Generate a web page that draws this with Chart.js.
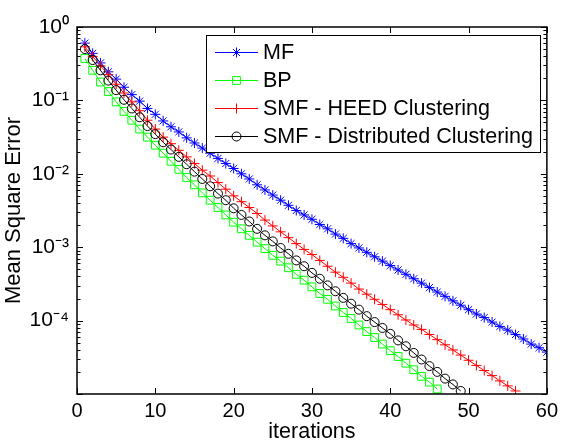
<!DOCTYPE html>
<html><head><meta charset="utf-8">
<script src="https://cdn.jsdelivr.net/npm/chart.js@4.4.1/dist/chart.umd.min.js"></script>
<style>html,body{margin:0;padding:0;background:#fff;}canvas{display:block;}</style>
</head><body>
<canvas id="c" width="563" height="443"></canvas>
<script>
const iterations = [1,2,3,4,5,6,7,8,9,10,11,12,13,14,15,16,17,18,19,20,21,22,23,24,25,26,27,28,29,30,31,32,33,34,35,36,37,38,39,40,41,42,43,44,45,46,47,48,49,50,51,52,53,54,55,56,57,58,59,60];
const mf = [0.603,0.437,0.324,0.245,0.195,0.151,0.120,0.0977,0.0776,0.0646,
  0.0525,0.0437,0.0372,0.0309,0.0263,0.0224,0.0191,0.0162,0.0138,0.0118,
  0.0100,0.00851,0.00708,0.00603,0.00513,0.00437,0.00372,0.00316,0.00275,0.00240,
  0.00204,0.00178,0.00151,0.00132,0.00112,9.77e-4,8.51e-4,7.41e-4,6.46e-4,5.62e-4,
  4.90e-4,4.27e-4,3.72e-4,3.24e-4,2.82e-4,2.45e-4,2.14e-4,1.86e-4,1.62e-4,1.41e-4,
  1.23e-4,1.10e-4,9.55e-5,8.32e-5,7.41e-5,6.46e-5,5.62e-5,4.79e-5,4.27e-5,3.72e-5];
const bp = [0.372,0.257,0.178,0.132,0.0955,0.0708,0.0537,0.0407,0.0316,0.0245,
  0.0191,0.0148,0.0115,0.00891,0.00708,0.00550,0.00437,0.00347,0.00275,0.00219,
  0.00178,0.00145,0.00117,9.55e-4,7.76e-4,6.46e-4,5.25e-4,4.27e-4,3.55e-4,2.88e-4,
  2.34e-4,1.95e-4,1.58e-4,1.29e-4,1.07e-4,8.71e-5,7.08e-5,5.89e-5,4.79e-5,3.89e-5,
  3.24e-5,2.63e-5,2.14e-5,1.74e-5,1.45e-5,1.17e-5];
const smfHeed = [0.537,0.398,0.295,0.224,0.166,0.126,0.0955,0.0724,0.0537,0.0407,
  0.0316,0.0257,0.0209,0.0170,0.0138,0.0112,0.00933,0.00759,0.00617,0.00501,
  0.00417,0.00347,0.00288,0.00234,0.00195,0.00162,0.00135,0.00112,9.33e-4,7.94e-4,
  6.61e-4,5.50e-4,4.57e-4,3.89e-4,3.24e-4,2.69e-4,2.29e-4,1.95e-4,1.66e-4,1.41e-4,
  1.20e-4,1.02e-4,8.71e-5,7.59e-5,6.46e-5,5.50e-5,4.68e-5,3.98e-5,3.39e-5,2.88e-5,
  2.45e-5,2.09e-5,1.78e-5,1.51e-5,1.29e-5,1.10e-5];
const smfDist = [0.501,0.355,0.257,0.186,0.138,0.102,0.0776,0.0589,0.0447,0.0347,
  0.0269,0.0214,0.0170,0.0135,0.0107,0.00851,0.00676,0.00537,0.00437,0.00339,
  0.00275,0.00224,0.00178,0.00145,0.00120,9.77e-4,8.13e-4,6.61e-4,5.50e-4,4.47e-4,
  3.72e-4,3.02e-4,2.51e-4,2.04e-4,1.70e-4,1.41e-4,1.15e-4,9.55e-5,7.94e-5,6.61e-5,
  5.37e-5,4.47e-5,3.63e-5,2.95e-5,2.40e-5,2.00e-5,1.62e-5,1.35e-5,1.10e-5];
const seriesLabels = ['MF','BP','SMF - HEED Clustering','SMF - Distributed Clustering'];
const xTicks = [0,10,20,30,40,50,60];
const yTicks = [1e-4,1e-3,1e-2,1e-1,1];
const yMin = 1e-5, yMax = 1;

const FONT = 'Arial, "Liberation Sans", Helvetica, sans-serif';
const sup = {'0':'⁰','1':'¹','2':'²','3':'³','4':'⁴','5':'⁵','6':'⁶','7':'⁷','8':'⁸','9':'⁹','-':'⁻'};
function pow10Label(v){
  const e = Math.round(Math.log10(v));
  return '10' + String(e).split('').map(c=>sup[c]).join('');
}
function toPts(arr){ return arr.map((v,i)=>({x:iterations[i], y:v})); }

const styles = [
  {color:'#0000ff', pointStyle:'star', radius:5},
  {color:'#00ff00', pointStyle:'rect', radius:5.5},
  {color:'#ff0000', pointStyle:'cross', radius:5},
  {color:'#000000', pointStyle:'circle', radius:4.5}
];
const seriesData = [mf, bp, smfHeed, smfDist];

const datasets = seriesData.map((arr,i)=>({
  label: seriesLabels[i],
  data: toPts(arr),
  borderColor: styles[i].color,
  backgroundColor: 'rgba(0,0,0,0)',
  pointBorderColor: styles[i].color,
  pointBackgroundColor: 'rgba(0,0,0,0)',
  pointStyle: styles[i].pointStyle,
  pointRadius: styles[i].radius,
  pointBorderWidth: 1,
  borderWidth: 1,
  tension: 0,
  fill: false,
  order: 3 - i
}));

const framePlugin = {
  id: 'frame',
  afterDatasetsDraw(chart){
    const {ctx, chartArea:a, scales:{x, y}} = chart;
    ctx.save();
    ctx.strokeStyle = '#000';
    ctx.lineWidth = 1;
    ctx.beginPath();
    xTicks.forEach(v=>{
      const px = Math.round(x.getPixelForValue(v)) + 0.5;
      ctx.moveTo(px, a.bottom); ctx.lineTo(px, a.bottom - 6);
      ctx.moveTo(px, a.top); ctx.lineTo(px, a.top + 6);
    });
    for (let e = -5; e <= 0; e++) {
      for (let m = 1; m < 10; m++) {
        const v = m * Math.pow(10, e);
        if (v > yMax * 1.0001 || v < yMin * 0.9999) continue;
        const py = Math.round(y.getPixelForValue(v)) + 0.5;
        const L = m === 1 ? 6 : 3.5;
        ctx.moveTo(a.left, py); ctx.lineTo(a.left + L, py);
        ctx.moveTo(a.right, py); ctx.lineTo(a.right - L, py);
      }
    }
    ctx.stroke();
    ctx.lineWidth = 1.5;
    ctx.strokeRect(a.left, a.top, a.right - a.left, a.bottom - a.top);
    ctx.restore();
  }
};

const legendPlugin = {
  id: 'boxLegend',
  afterDraw(chart){
    const {ctx} = chart;
    const bx = 206, by = 35, bw = 334, bh = 117;
    ctx.save();
    ctx.fillStyle = '#fff';
    ctx.fillRect(bx, by, bw, bh);
    ctx.strokeStyle = '#000';
    ctx.lineWidth = 1;
    ctx.strokeRect(bx + 0.5, by + 0.5, bw, bh);
    chart.data.datasets.forEach((ds, i)=>{
      const cy = by + 17 + i * 28;
      ctx.strokeStyle = ds.borderColor;
      ctx.lineWidth = 1;
      ctx.beginPath();
      ctx.moveTo(215, cy + 0.5); ctx.lineTo(258, cy + 0.5);
      ctx.stroke();
      ctx.fillStyle = 'rgba(0,0,0,0)';
      Chart.helpers.drawPoint(ctx, {pointStyle: ds.pointStyle, radius: ds.pointRadius, borderWidth: 1, rotation: 0}, 236.5, cy + 0.5);
      ctx.fillStyle = '#000';
      ctx.font = '21.5px ' + FONT;
      ctx.textAlign = 'left';
      ctx.textBaseline = 'middle';
      ctx.fillText(ds.label, 263, cy + 1);
    });
    ctx.restore();
  }
};

new Chart(document.getElementById('c'), {
  type: 'line',
  data: { datasets },
  plugins: [framePlugin, legendPlugin],
  options: {
    responsive: false,
    animation: false,
    devicePixelRatio: 1,
    layout: { padding: { top: 27, right: 12, left: 0, bottom: 0 } },
    plugins: { legend: { display: false }, tooltip: { enabled: false } },
    scales: {
      x: {
        type: 'linear', min: 0, max: 60,
        afterBuildTicks(s){ s.ticks = xTicks.map(v=>({value:v})); },
        afterFit(s){ s.height = 49; },
        grid: { display: false, drawTicks: false },
        border: { display: false },
        ticks: { color: '#000', padding: 5, font: { family: FONT, size: 20 }, maxRotation: 0 },
        title: { display: true, text: 'iterations', color: '#000', font: { family: FONT, size: 21.5, lineHeight: 1 }, padding: { top: 0, bottom: 0 } }
      },
      y: {
        type: 'logarithmic', min: yMin, max: yMax,
        afterBuildTicks(s){ s.ticks = yTicks.map(v=>({value:v})); },
        afterFit(s){ s.width = 77; },
        grid: { display: false, drawTicks: false },
        border: { display: false },
        ticks: { color: '#000', padding: 8, font: { family: FONT, size: 21 }, callback: (v)=>pow10Label(v) },
        title: { display: true, text: 'Mean Square Error', color: '#000', font: { family: FONT, size: 22, lineHeight: 1.2 }, padding: { top: 1, bottom: 0 } }
      }
    }
  }
});
</script>
</body></html>
